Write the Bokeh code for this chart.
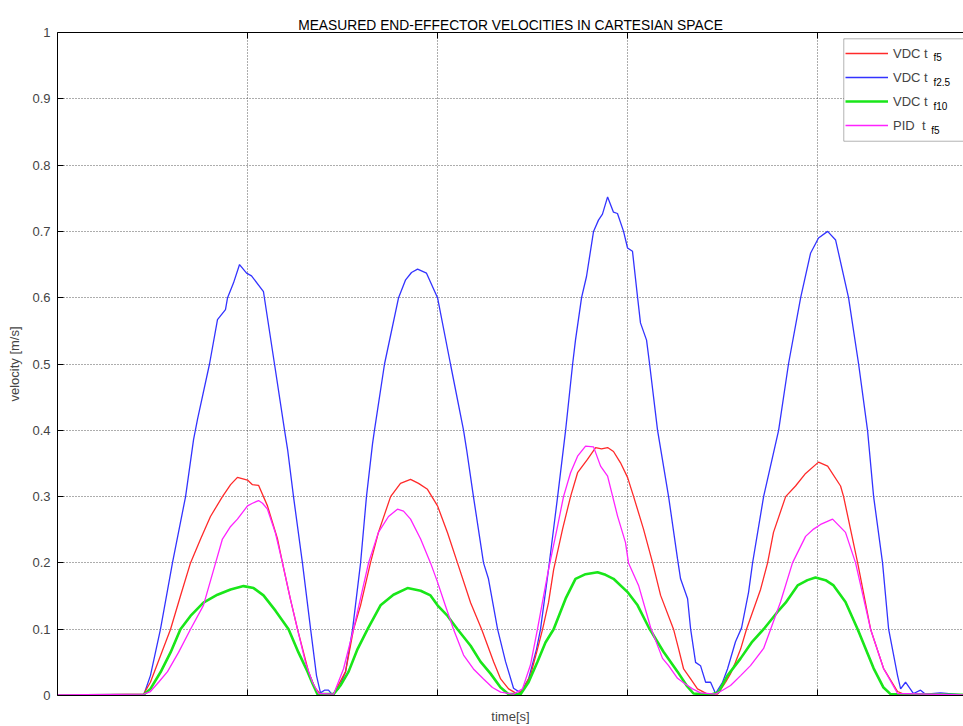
from bokeh.plotting import figure
from bokeh.models import Legend, LegendItem, Label, FixedTicker, LinearAxis, BoxAnnotation
from bokeh.embed import file_html
from bokeh.resources import INLINE

# ---------------- data ----------------
title_text = "MEASURED END-EFFECTOR VELOCITIES IN CARTESIAN SPACE"
x_label = "time[s]"
y_label = "velocity [m/s]"

x_ticks = [10, 20, 30, 40]
y_ticks = [0, 0.1, 0.2, 0.3, 0.4, 0.5, 0.6, 0.7, 0.8, 0.9, 1.0]
y_tick_labels = ["0", "0.1", "0.2", "0.3", "0.4", "0.5", "0.6", "0.7", "0.8", "0.9", "1"]

legend_labels = ["VDC t", "VDC t", "VDC t", "PID  t"]
legend_subs = ["f5", "f2.5", "f10", "f5"]

# VDC t_f2.5 (blue)
blue_t = [0, 4.53, 4.89, 5.42, 6.05, 6.74, 7.16, 7.37, 8.0, 8.42, 8.84, 8.95, 9.26, 9.58, 9.95, 10.21,
          10.84, 11.42, 11.95, 12.11, 12.42, 12.89, 13.32, 13.63, 13.84, 14.05, 14.26, 14.47,
          14.79, 15.16, 15.53, 15.95, 16.26, 16.58, 16.68, 17.21, 17.95, 18.32, 18.63, 18.95, 19.42,
          20.0, 20.68, 21.37, 21.53, 21.89, 22.42, 22.68, 23.16, 23.58, 24.0, 24.37,
          24.79, 25.21, 25.42, 25.84, 26.32, 26.74, 27.11, 27.26, 27.58, 27.84, 28.21, 28.47, 28.68,
          28.95, 29.26, 29.47, 29.79, 30.0, 30.26, 30.53, 30.68, 31.0, 31.16, 31.58, 32.16, 32.63,
          32.79, 33.16, 33.32, 33.58, 33.84, 34.11, 34.37, 34.63,
          35.0, 35.26, 35.68, 36.0, 36.37, 36.58, 37.16, 37.95, 38.47, 39.11, 39.63, 40.05, 40.53,
          40.95, 41.63, 42.16, 42.63, 42.95, 43.42, 43.74, 44.21, 44.37, 44.63, 45.05, 45.42, 45.68,
          46.47, 47.68]
blue_v = [0, 0, 0.03, 0.1, 0.2, 0.3, 0.386, 0.417, 0.5, 0.567, 0.582, 0.6, 0.622, 0.65, 0.637, 0.633,
          0.609, 0.5, 0.4, 0.371, 0.3, 0.2, 0.1, 0.03, 0.004, 0.008, 0.008, 0.001,
          0.01, 0.036, 0.1, 0.2, 0.3, 0.38, 0.4, 0.5, 0.6, 0.627, 0.638, 0.643, 0.637,
          0.6, 0.5, 0.4, 0.371, 0.3, 0.2, 0.176, 0.1, 0.051, 0.011, 0.004,
          0.025, 0.07, 0.1, 0.19, 0.3, 0.4, 0.5, 0.536, 0.6, 0.632, 0.7, 0.717, 0.726,
          0.752, 0.729, 0.727, 0.7, 0.675, 0.67, 0.6, 0.562, 0.536, 0.5, 0.4, 0.3, 0.206,
          0.176, 0.146, 0.1, 0.05, 0.045, 0.02, 0.02, 0.003,
          0.02, 0.04, 0.081, 0.102, 0.156, 0.2, 0.3, 0.4, 0.5, 0.6, 0.667, 0.69, 0.7,
          0.687, 0.6, 0.5, 0.4, 0.3, 0.2, 0.1, 0.03, 0.01, 0.02, 0.003, 0.008, 0.002,
          0.004, 0.001]

# VDC t_f5 (red)
red_t = [0, 4.53, 4.89, 5.42, 5.95, 6.47, 7.0, 7.53, 8.05, 8.68, 9.11, 9.47, 10.0, 10.26, 10.58, 11.05,
         11.58, 11.84, 12.26, 12.63, 13.21, 13.53, 13.84,
         14.53, 15.16, 15.58, 15.95, 16.47, 16.89, 17.53, 18.05, 18.58, 19.0, 19.47, 20.0, 20.53, 21.05,
         21.74, 22.32, 22.95, 23.32, 23.74, 24.21,
         24.47, 24.89, 25.26, 25.53, 25.84, 26.11, 26.58, 27.0, 27.37, 27.89, 28.32, 28.63, 28.95, 29.26,
         29.63, 30.0, 30.32, 30.84, 31.32, 31.74, 32.42, 32.68, 32.95, 33.32, 33.68, 34.21,
         34.74, 35.16, 35.42, 35.68, 35.95, 36.26, 37.0, 37.37, 37.68, 38.32, 38.84, 39.37, 40.05, 40.53,
         41.21, 41.37, 42.11, 42.79, 43.47, 44.21, 44.63, 47.68]
red_v = [0, 0.002, 0.02, 0.06, 0.1, 0.15, 0.2, 0.236, 0.27, 0.3, 0.318, 0.329, 0.325, 0.318, 0.317, 0.286,
         0.236, 0.2, 0.145, 0.1, 0.036, 0.012, 0.002,
         0.002, 0.036, 0.1, 0.136, 0.2, 0.246, 0.3, 0.32, 0.326, 0.32, 0.311, 0.286, 0.245, 0.2,
         0.14, 0.1, 0.051, 0.025, 0.01, 0.002,
         0.008, 0.03, 0.07, 0.1, 0.14, 0.19, 0.251, 0.3, 0.336, 0.356, 0.374, 0.372, 0.374, 0.368,
         0.351, 0.329, 0.3, 0.251, 0.2, 0.151, 0.1, 0.071, 0.04, 0.025, 0.01, 0.002,
         0.002, 0.02, 0.033, 0.05, 0.07, 0.1, 0.16, 0.2, 0.246, 0.3, 0.316, 0.335, 0.352, 0.346,
         0.316, 0.3, 0.2, 0.1, 0.041, 0.006, 0.001, 0.001]

# VDC t_f10 (green)
grn_t = [0, 4.53, 4.89, 5.42, 5.95, 6.47, 7.0, 7.68, 8.42, 9.11, 9.79, 10.32, 10.84, 11.47, 12.16,
         12.68, 13.16, 13.42, 13.68,
         14.53, 14.89, 15.32, 15.79, 16.32, 17.0, 17.68, 18.42, 19.11, 19.63, 20.0, 20.53, 21.05,
         21.74, 22.26, 22.79, 23.32, 23.74,
         24.37, 24.79, 25.26, 25.68, 26.11, 26.74, 27.26, 27.79, 28.42, 28.84, 29.26, 30.0, 30.53,
         31.11, 31.89, 32.63, 33.11, 33.47, 34.37,
         34.79, 35.26, 35.95, 36.53, 37.16, 37.89, 38.32, 38.95, 39.47, 39.89, 40.42, 40.84, 41.47,
         42.11, 42.95, 43.47, 43.84, 47.68]
grn_v = [0, 0.001, 0.01, 0.035, 0.065, 0.1, 0.12, 0.14, 0.152, 0.16, 0.165, 0.162, 0.151, 0.128, 0.1,
         0.065, 0.036, 0.018, 0.002,
         0.002, 0.015, 0.036, 0.07, 0.1, 0.136, 0.152, 0.162, 0.158, 0.151, 0.136, 0.12, 0.1,
         0.075, 0.051, 0.033, 0.012, 0.002,
         0.002, 0.02, 0.051, 0.08, 0.1, 0.146, 0.176, 0.183, 0.186, 0.182, 0.176, 0.156, 0.136,
         0.103, 0.066, 0.036, 0.015, 0.003, 0.001,
         0.005, 0.03, 0.056, 0.08, 0.1, 0.126, 0.14, 0.166, 0.174, 0.178, 0.174, 0.166, 0.141,
         0.1, 0.041, 0.012, 0.002, 0.001]

# PID t_f5 (magenta)
mag_t = [0, 4.53, 4.89, 5.32, 5.79, 6.37, 7.0, 7.68, 8.32, 8.68, 9.11, 9.47, 10.0, 10.26, 10.58, 10.79,
         11.05, 11.47, 11.84, 12.26, 12.63, 13.05, 13.42, 13.74,
         14.53, 15.05, 15.58, 16.37, 16.89, 17.42, 17.89, 18.21, 18.58, 19.11, 19.63, 20.0, 20.42, 20.84,
         21.37, 21.89, 22.42, 22.89, 23.32, 24.0,
         24.47, 24.89, 25.26, 25.58, 25.84, 26.32, 26.63, 27.0, 27.37, 27.79, 28.21, 28.58, 28.95, 29.47,
         29.89, 30.05, 30.58, 31.21, 31.84, 32.16, 32.63, 33.0, 33.42, 33.84, 34.63,
         35.0, 35.42, 35.95, 36.47, 37.16, 37.53, 38.05, 38.68, 39.37, 39.79, 40.16, 40.79, 41.47, 42.0,
         42.79, 43.47, 44.21, 47.68]
mag_v = [0.001, 0.002, 0.006, 0.02, 0.036, 0.065, 0.1, 0.136, 0.2, 0.236, 0.255, 0.266, 0.286, 0.29, 0.294, 0.29,
         0.281, 0.245, 0.2, 0.145, 0.1, 0.05, 0.02, 0.003,
         0.002, 0.04, 0.1, 0.2, 0.246, 0.27, 0.281, 0.278, 0.266, 0.236, 0.2, 0.171, 0.135, 0.1,
         0.061, 0.04, 0.025, 0.012, 0.005, 0.002,
         0.01, 0.046, 0.1, 0.15, 0.19, 0.256, 0.3, 0.336, 0.361, 0.376, 0.375, 0.346, 0.331, 0.271,
         0.231, 0.2, 0.166, 0.103, 0.056, 0.045, 0.026, 0.018, 0.01, 0.004, 0.002,
         0.008, 0.015, 0.03, 0.045, 0.071, 0.1, 0.141, 0.2, 0.24, 0.251, 0.258, 0.266, 0.246, 0.2,
         0.1, 0.041, 0.003, 0.001]

FONT = "Liberation Sans"

p = figure(width=963, height=726, x_range=(0, 47.68), y_range=(0, 1),
           output_backend="svg", toolbar_location=None,
           min_border_left=57, min_border_right=0, min_border_top=32, min_border_bottom=0)
p.outline_line_color = None
p.background_fill_color = "white"

p.title.text = title_text
p.title.align = "center"
p.title.text_font = FONT
p.title.text_font_size = "13.8px"
p.title.text_font_style = "normal"
p.title.text_color = "black"
p.title.standoff = 0

# axes
p.xaxis.ticker = FixedTicker(ticks=x_ticks)
p.xaxis.major_label_text_font_size = "1px"
p.xaxis.major_label_text_color = None
p.xaxis.major_label_standoff = 0
p.xaxis.axis_label = x_label
p.xaxis.axis_label_text_font = FONT
p.xaxis.axis_label_text_font_size = "13px"
p.xaxis.axis_label_text_font_style = "normal"
p.xaxis.axis_label_standoff = 13
p.xaxis.major_tick_in = 6
p.xaxis.major_tick_out = 0
p.xaxis.minor_tick_line_color = None
p.xaxis.axis_line_color = "black"

p.yaxis.ticker = FixedTicker(ticks=y_ticks)
p.yaxis.major_label_overrides = dict(zip(y_ticks, y_tick_labels))
p.yaxis.major_label_text_font = FONT
p.yaxis.major_label_text_font_size = "13px"
p.yaxis.major_label_standoff = 7
p.yaxis.axis_label = y_label
p.yaxis.axis_label_text_font = FONT
p.yaxis.axis_label_text_font_size = "13px"
p.yaxis.axis_label_text_font_style = "normal"
p.yaxis.axis_label_standoff = 7
p.yaxis.major_tick_in = 6
p.yaxis.major_tick_out = 0
p.yaxis.minor_tick_line_color = None
p.yaxis.axis_line_color = "black"

top_axis = LinearAxis(ticker=FixedTicker(ticks=x_ticks), major_label_text_font_size="1px",
                      major_label_text_color=None,
                      major_label_standoff=0, major_tick_in=6, major_tick_out=0,
                      minor_tick_line_color=None, axis_line_color="black")
p.add_layout(top_axis, "above")

for g in (p.xgrid, p.ygrid):
    g.grid_line_color = "#333333"
    g.grid_line_dash = "1 2"
    g.grid_line_alpha = 0.8
    g.grid_line_width = 1
p.xgrid.ticker = FixedTicker(ticks=x_ticks)
p.ygrid.ticker = FixedTicker(ticks=y_ticks)

r_blue = p.line(blue_t, blue_v, line_color="#3333ff", line_width=1.3)
r_red = p.line(red_t, red_v, line_color="#ff2a2a", line_width=1.3)
r_grn = p.line(grn_t, grn_v, line_color="#19e619", line_width=2.6)
r_mag = p.line(mag_t, mag_v, line_color="#ff22ff", line_width=1.3)

# legend frame (cut by the right edge, as in the reference)
legend_box = BoxAnnotation(left=41.38, right=50, top=0.9905, bottom=0.836,
                           fill_color="white", fill_alpha=1,
                           line_color="black", line_width=1)
p.add_layout(legend_box)

legend = Legend(items=[LegendItem(label=legend_labels[0], renderers=[r_red]),
                       LegendItem(label=legend_labels[1], renderers=[r_blue]),
                       LegendItem(label=legend_labels[2], renderers=[r_grn]),
                       LegendItem(label=legend_labels[3], renderers=[r_mag])],
                location=(788, 562))
legend.border_line_color = None
legend.background_fill_alpha = 0
legend.glyph_width = 43
legend.glyph_height = 16
legend.label_height = 16
legend.label_standoff = 5
legend.spacing = 8
legend.padding = 7
legend.margin = 0
legend.label_text_font = FONT
legend.label_text_font_size = "13px"
p.add_layout(legend)

sub_x = [46.1, 46.1, 46.1, 45.98]
sub_y = [0.9617, 0.9248, 0.8887, 0.8526]
for sx, sy, s in zip(sub_x, sub_y, legend_subs):
    p.add_layout(Label(x=sx, y=sy, text=s, text_font=FONT, text_font_size="10px",
                       text_baseline="middle", text_color="black", level="overlay"))

open("out.html", "w").write(file_html(p, INLINE))
